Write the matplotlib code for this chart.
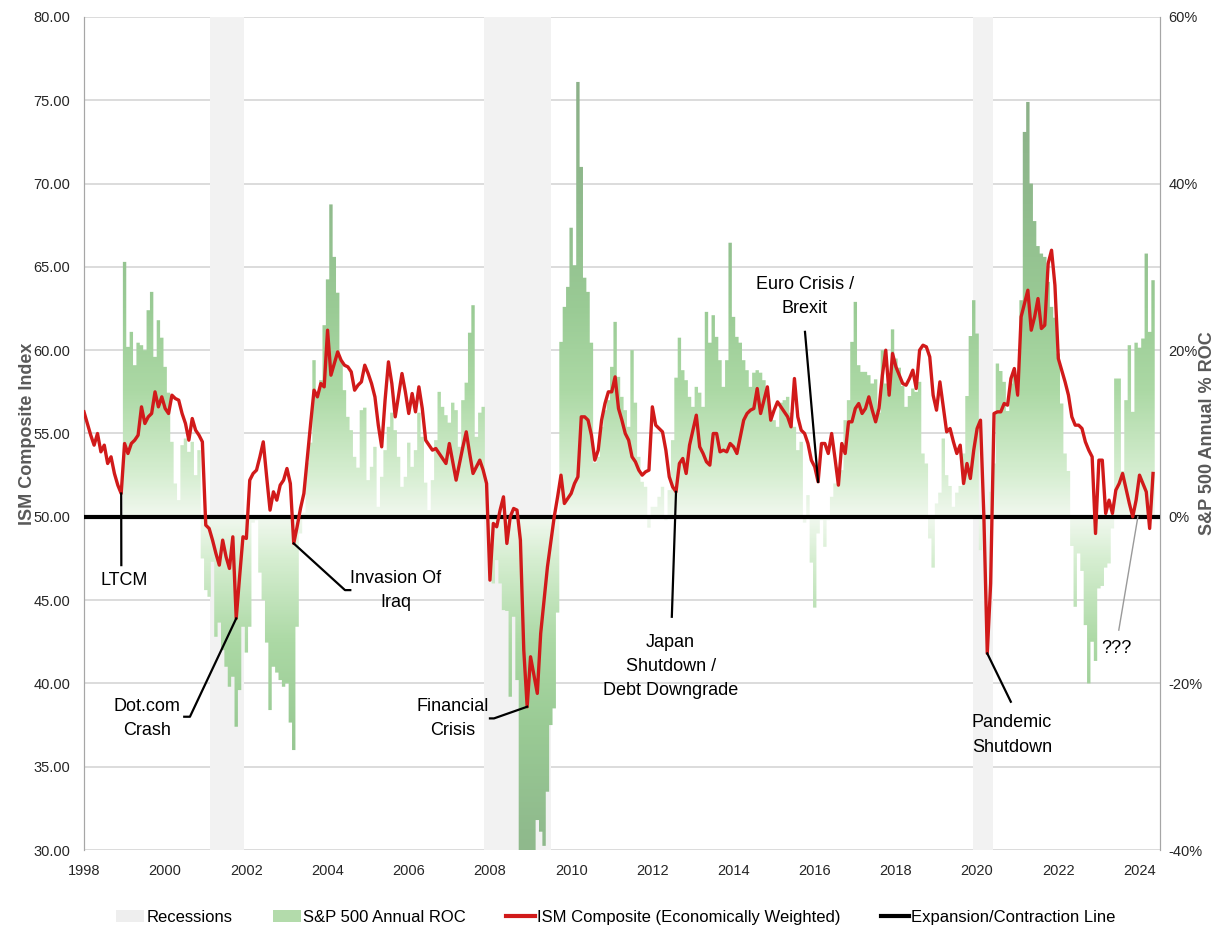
import numpy as np
import matplotlib
matplotlib.use("Agg")
import matplotlib.pyplot as plt
from matplotlib.colors import LinearSegmentedColormap
from matplotlib.path import Path
from matplotlib.patches import Patch
from matplotlib.lines import Line2D

plt.rcParams['font.family'] = ['Liberation Sans Narrow', 'Liberation Sans', 'DejaVu Sans']

# ISM composite (economically weighted), monthly from Jan 1998
ism_composite = [
    56.3, 55.6, 54.9, 54.3, 55.0, 53.9, 54.3, 53.2, 53.6, 52.6, 51.9, 51.4,  # 1998
    54.4, 53.8, 54.4, 54.6, 54.9, 56.6, 55.6, 56.0, 56.2, 57.5, 56.6, 57.2,  # 1999
    56.5, 56.2, 57.3, 57.1, 57.0, 56.2, 55.6, 54.6, 55.9, 55.2, 54.9, 54.5,  # 2000
    49.5, 49.3, 48.6, 47.8, 47.1, 48.6, 47.6, 46.9, 48.8, 43.9, 46.4, 48.8,  # 2001
    48.7, 52.2, 52.6, 52.8, 53.6, 54.5, 52.4, 50.4, 51.5, 51.0, 51.9, 52.2,  # 2002
    52.9, 52.0, 48.4, 49.4, 50.5, 51.4, 53.5, 55.6, 57.6, 57.2, 58.0, 57.8,  # 2003
    61.2, 58.5, 59.2, 59.9, 59.4, 59.1, 59.0, 58.7, 57.6, 57.9, 58.1, 59.1,  # 2004
    58.6, 58.0, 57.2, 55.5, 54.2, 57.0, 59.3, 58.0, 56.0, 57.3, 58.6, 57.5,  # 2005
    56.2, 57.4, 56.3, 57.8, 56.5, 54.6, 54.3, 54.0, 54.1, 53.8, 53.5, 53.2,  # 2006
    54.4, 53.3, 52.2, 53.2, 54.2, 55.1, 53.8, 52.6, 53.0, 53.4, 52.8, 52.0,  # 2007
    46.2, 49.6, 49.4, 50.4, 51.2, 48.4, 50.0, 50.5, 50.4, 48.6, 42.0, 38.6,  # 2008
    41.6, 40.5, 39.4, 43.0, 45.0, 47.0, 48.5, 50.0, 51.2, 52.5, 50.8, 51.1,  # 2009
    51.4, 52.0, 52.4, 56.0, 56.0, 55.8, 54.9, 53.4, 54.0, 55.8, 56.8, 57.5,  # 2010
    57.5, 58.4, 56.5, 55.8, 55.0, 54.6, 53.6, 53.3, 52.8, 52.5, 52.7, 52.8,  # 2011
    56.6, 55.5, 55.3, 55.1, 54.0, 52.4, 51.8, 51.5, 53.2, 53.5, 52.6, 54.3,  # 2012
    55.2, 56.1, 54.2, 53.8, 53.3, 53.1, 55.0, 55.0, 53.9, 54.0, 53.9, 54.4,  # 2013
    54.2, 53.8, 54.8, 55.8, 56.2, 56.4, 56.5, 57.7, 56.2, 57.0, 57.8, 55.8,  # 2014
    56.4, 56.9, 56.6, 56.3, 56.0, 55.4, 58.3, 56.0, 55.2, 55.0, 54.4, 53.4,  # 2015
    53.0, 52.1, 54.4, 54.4, 53.8, 55.0, 53.5, 51.9, 54.4, 53.8, 55.7, 55.7,  # 2016
    56.5, 56.8, 56.2, 56.5, 57.2, 56.4, 55.7, 56.5, 58.5, 60.0, 57.3, 59.8,  # 2017
    59.0, 58.5, 58.0, 57.9, 58.3, 58.8, 57.7, 60.0, 60.3, 60.2, 59.6, 57.3,  # 2018
    56.4, 58.1, 56.6, 55.1, 55.3, 54.5, 53.8, 54.3, 52.0, 53.2, 52.3, 54.0,  # 2019
    55.3, 55.8, 50.0, 41.8, 46.0, 56.2, 56.3, 56.3, 56.8, 56.7, 58.3, 58.9,  # 2020
    57.3, 62.0, 62.8, 63.6, 61.2, 62.0, 63.1, 61.3, 61.5, 65.2, 66.0, 63.9,  # 2021
    59.5, 58.8, 58.1, 57.3, 56.0, 55.5, 55.5, 55.3, 54.5, 54.0, 53.6, 49.0,  # 2022
    53.4, 53.4, 50.2, 51.0, 50.2, 51.6, 52.0, 52.6, 51.7, 50.8, 50.0, 51.0,  # 2023
    52.5, 52.0, 51.5, 49.3, 52.6,                                            # 2024
]

# S&P 500 annual rate of change (%), monthly from Jan 1999
sp500_roc = [
    30.6, 20.4, 22.2, 18.2, 20.9, 20.6, 20.0, 24.8, 27.0, 19.2, 23.6, 21.5,  # 1999
    18.0, 14.9, 9.0, 4.0, 2.0, 8.6, 9.4, 7.8, 9.0, 5.0, 8.0, -5.0,  # 2000
    -8.8, -9.6, -5.4, -14.4, -12.7, -16.0, -18.0, -20.4, -19.2, -25.2, -20.8, -13.2,  # 2001
    -16.3, -13.2, -0.7, -0.4, -6.7, -10.0, -15.1, -23.2, -18.0, -18.7, -19.6, -20.4,  # 2002
    -20.0, -24.7, -28.0, -13.2, -2.0, 0.5, 6.5, 8.9, 18.8, 14.9, 16.4, 23.0,  # 2003
    28.5, 37.5, 31.2, 26.9, 18.8, 15.2, 12.0, 10.4, 7.2, 5.9, 12.8, 13.1,  # 2004
    4.4, 6.0, 8.4, 1.2, 4.8, 8.0, 10.8, 12.5, 10.4, 7.2, 3.6, 4.8,  # 2005
    8.9, 6.0, 8.0, 12.5, 9.6, 4.1, 0.8, 4.4, 9.2, 15.0, 13.2, 12.2,  # 2006
    11.3, 13.7, 12.8, 8.4, 14.0, 16.1, 22.1, 25.4, 9.6, 12.5, 13.2, 4.1,  # 2007
    -4.5, -8.0, -5.2, -8.0, -11.2, -11.3, -21.6, -12.0, -19.6, -42.0, -45.0, -41.0,  # 2008
    -40.0, -44.0, -36.4, -37.8, -39.5, -33.0, -25.0, -23.0, -11.5, 21.0, 25.2, 27.6,  # 2009
    34.7, 30.2, 52.2, 42.0, 28.7, 27.0, 20.9, 6.5, 7.2, 10.8, 12.8, 14.0,  # 2010
    18.0, 23.4, 16.8, 14.4, 12.8, 10.8, 20.0, 13.7, 7.2, 4.2, 3.6, -1.3,  # 2011
    1.2, 1.2, 2.4, 3.6, -0.4, 3.2, 9.2, 16.7, 21.5, 17.6, 16.4, 14.4,  # 2012
    13.2, 15.6, 14.9, 13.2, 24.6, 20.9, 24.2, 21.6, 18.8, 15.6, 18.8, 32.9,  # 2013
    24.0, 21.6, 20.9, 18.8, 17.6, 15.6, 17.3, 17.6, 17.3, 16.4, 14.4, 12.8,  # 2014
    11.6, 10.8, 13.7, 14.0, 14.4, 12.5, 10.8, 8.0, 9.0, -0.7, 2.6, -5.5,  # 2015
    -10.9, -2.0, -0.4, -3.6, -0.4, 2.4, 4.0, 6.0, 5.6, 11.6, 14.0, 21.0,  # 2016
    25.8, 18.2, 17.4, 17.4, 17.0, 16.0, 16.5, 12.5, 20.0, 16.0, 15.0, 22.5,  # 2017
    19.0, 17.9, 15.7, 13.2, 14.5, 15.4, 15.0, 16.2, 7.6, 6.4, -2.6, -6.1,  # 2018
    1.6, 2.9, 9.4, 5.0, 3.7, 1.2, 2.9, 3.7, 7.6, 14.5, 21.7, 26.0,  # 2019
    22.0, -4.0, -1.5, 0.5, 3.0, 6.4, 18.4, 17.5, 16.2, 12.7, 16.0, 17.5,  # 2020
    14.5, 26.0, 46.2, 49.8, 40.0, 35.5, 32.5, 31.6, 31.2, 28.2, 25.2, 23.9,  # 2021
    19.6, 13.6, 7.6, 5.5, -3.5, -10.8, -4.4, -6.5, -13.0, -20.0, -15.0, -17.3,  # 2022
    -8.6, -8.3, -6.1, -5.6, -1.4, 16.6, 16.6, 5.5, 14.0, 20.6, 12.6, 20.9,  # 2023
    20.3, 21.4, 31.6, 22.2, 28.4,  # 2024
]

recessions = [(2001.10, 2001.94), (2007.85, 2009.50), (2019.90, 2020.39)]

left_ticks = [30, 35, 40, 45, 50, 55, 60, 65, 70, 75, 80]
right_ticks = [-40, -20, 0, 20, 40, 60]
year_ticks = list(range(1998, 2025, 2))

# month index into ism_composite, text, text position, elbow points
events = [
    (11, "LTCM", (1999.0, 46.2), [(1998.92, 47.1)]),
    (45, "Dot.com\nCrash", (1999.55, 37.9), [(2000.61, 38.0), (2000.47, 38.0)]),
    (62, "Invasion Of\nIraq", (2005.68, 45.6), [(2004.43, 45.6), (2004.56, 45.6)]),
    (131, "Financial\nCrisis", (2007.09, 37.9), [(2008.10, 37.9), (2008.00, 37.9)]),
    (175, "Japan\nShutdown /\nDebt Downgrade", (2012.45, 41.0), [(2012.48, 44.0)]),
    (217, "Euro Crisis /\nBrexit", (2015.76, 63.2), [(2015.76, 61.1)]),
    (267, "Pandemic\nShutdown", (2020.86, 36.9), [(2020.83, 38.9)]),
]

x_ism = 1998 + np.arange(len(ism_composite)) / 12
x_roc = 1999 + np.arange(len(sp500_roc)) / 12
xmin, xmax = 1998.0, 2024.5

fig = plt.figure(figsize=(12.17, 9.43), dpi=100)
ax1 = fig.add_axes([0.069, 0.0986, 0.884, 0.8834])
ax2 = ax1.twinx()
ax1.set_zorder(ax2.get_zorder() + 1)
ax1.patch.set_visible(False)

# grid + recessions + bars on the right axis
ax2.set_ylim(-40, 60)
ax2.set_yticks(right_ticks)
ax2.set_yticks(np.arange(-40, 61, 10), minor=True)
ax2.set_yticklabels([f"{t}%" for t in right_ticks])
ax2.grid(True, which="both", axis="y", color="#d9d9d9", lw=1.3)
ax2.set_axisbelow(True)
for s, e in recessions:
    ax2.axvspan(s, e, color="#f2f2f2", lw=0, zorder=1)

bars = ax2.bar(x_roc, sp500_roc, width=1 / 12, facecolor="none", edgecolor="none")
green = LinearSegmentedColormap.from_list(
    "g", [(0, "#f1f8ef"), (0.1, "#d6eed1"), (0.3, "#acd9a5"), (0.5, "#9acb95"),
          (0.75, "#90bb8d"), (1, "#8cb189")])
ys = np.linspace(-40, 60, 600)
img = ax2.imshow(np.abs(ys)[:, None], extent=[xmin, xmax, -40, 60], origin="lower",
                 aspect="auto", cmap=green, vmin=0, vmax=50, zorder=2,
                 interpolation="bilinear")
clip = Path.make_compound_path(*[b.get_patch_transform().transform_path(b.get_path()) for b in bars])
img.set_clip_path(clip, ax2.transData)
ax2.set_xlim(xmin, xmax)
ax2.set_ylim(-40, 60)

# ISM line on the left axis
ax1.set_xlim(xmin, xmax)
ax1.set_ylim(30, 80)
ax1.set_yticks(left_ticks)
ax1.set_yticklabels([f"{t:.2f}" for t in left_ticks])
ax1.set_xticks(year_ticks)
ax1.axhline(50, color="black", lw=3, zorder=3)
ax1.plot(x_ism, ism_composite, color="#d11a1a", lw=2.4, zorder=4)

for idx, label, (tx, ty), elbow in events:
    px, py = x_ism[idx], ism_composite[idx]
    xs = [px] + [p[0] for p in elbow]
    yv = [py] + [p[1] for p in elbow]
    ax1.plot(xs, yv, color="black", lw=1.6, zorder=5)
    ax1.text(tx, ty, label, ha="center", va="center", multialignment="center",
             fontsize=13, linespacing=1.55, color="black", zorder=6)

ax1.plot([2023.96, 2023.49], [50.0, 43.2], color="#9a9a9a", lw=1, zorder=5)
ax1.text(2023.44, 42.1, "???", ha="center", va="center", fontsize=13, zorder=6)

for ax in (ax1, ax2):
    for side in ("top", "bottom"):
        ax.spines[side].set_visible(False)
    ax.spines["left"].set_color("#a6a6a6")
    ax.spines["right"].set_color("#a6a6a6")
    ax.tick_params(which="both", length=0, colors="#262626")
ax1.tick_params(axis="y", labelsize=10.5, pad=10)
ax1.tick_params(axis="x", labelsize=10.5, pad=10)
ax2.tick_params(axis="y", labelsize=10.5, pad=6)

ax1.set_ylabel("ISM Composite Index", fontsize=13, fontweight="bold", color="#595959",
               family=["Liberation Sans", "DejaVu Sans"])
ax1.yaxis.set_label_coords(-0.045, 0.5)
ax2.set_ylabel("S&P 500 Annual % ROC", fontsize=13, fontweight="bold", color="#595959",
               family=["Liberation Sans", "DejaVu Sans"])
ax2.yaxis.set_label_coords(1.036, 0.5)

handles = [
    Patch(facecolor="#eeeeee", edgecolor="none", label="Recessions"),
    Patch(facecolor="#b3dbab", edgecolor="none", label="S&P 500 Annual ROC"),
    Line2D([], [], color="#d11a1a", lw=3, label="ISM Composite (Economically Weighted)"),
    Line2D([], [], color="black", lw=3, label="Expansion/Contraction Line"),
]
fig.legend(handles=handles, loc="center", bbox_to_anchor=(0.506, 0.027), ncol=4,
           frameon=False, fontsize=12, handlelength=1.7, handletextpad=0.15,
           columnspacing=2.4)

fig.savefig("out.png", dpi=100)
